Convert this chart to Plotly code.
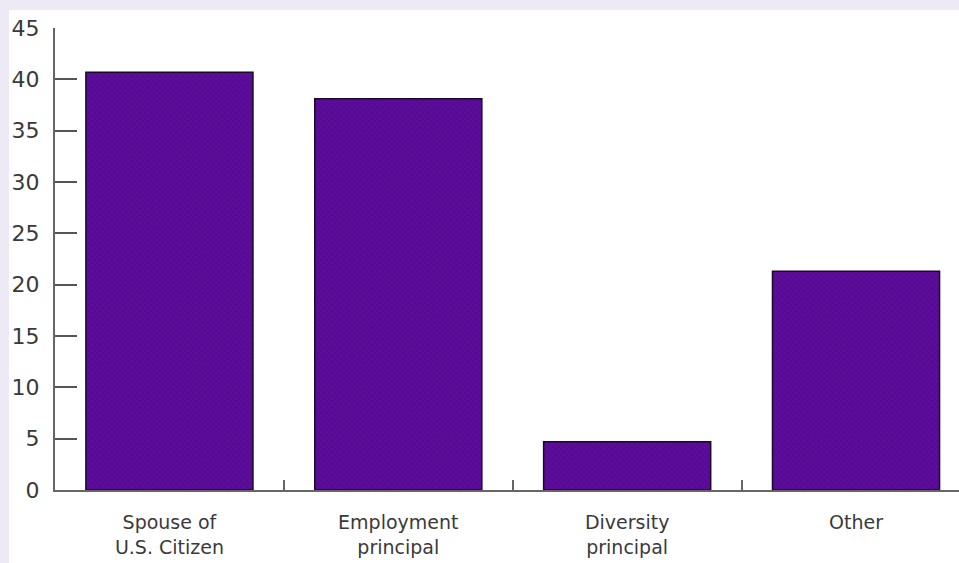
import plotly.graph_objects as go

categories = ["Spouse of<br>U.S. Citizen", "Employment<br>principal", "Diversity<br>principal", "Other"]
values = [40.7, 38.1, 4.7, 21.3]
y_ticks = [0, 5, 10, 15, 20, 25, 30, 35, 40, 45]

W, H = 959, 563
L, R, T, B = 55, 0, 28, 73
pw, ph = W - L - R, H - T - B

fig = go.Figure(go.Bar(
    x=categories, y=values,
    marker=dict(
        color="#5e0c9c",
        line=dict(color="#1a0a2a", width=1.5),
        pattern=dict(shape="x", fgcolor="#3a0870", size=4, solidity=0.3, fillmode="overlay"),
    ),
    width=0.73,
))

fig.add_shape(type="rect", xref="paper", yref="paper",
              x0=(9 - L) / pw, x1=1.01, y0=-0.3, y1=(ph + T - 10) / ph,
              fillcolor="white", line=dict(width=0), layer="below")

fig.update_layout(
    width=W, height=H,
    margin=dict(l=L, r=R, t=T, b=B),
    paper_bgcolor="#ede9f5",
    plot_bgcolor="white",
    showlegend=False,
    font=dict(family="DejaVu Sans, sans-serif", size=19, color="#3a3a3a"),
    xaxis=dict(
        range=[-0.5, 3.45], showgrid=False, showline=True, linecolor="#666666", linewidth=2,
        ticks="inside", tickson="boundaries", ticklen=10, tickcolor="#666666", tickwidth=1.5,
        ticklabelstandoff=14, tickfont=dict(size=19),
    ),
    yaxis=dict(
        range=[0, 45], tickvals=y_ticks, showgrid=False, zeroline=False,
        showline=True, linecolor="#666666", linewidth=2,
        ticks="inside", ticklen=22, tickcolor="#555555", tickwidth=1.5,
        ticklabelstandoff=9, tickfont=dict(size=22),
    ),
)

fig.write_html("out.html")
